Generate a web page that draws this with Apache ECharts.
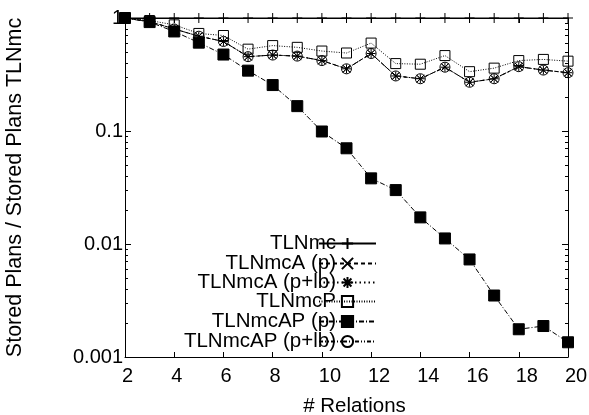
<!DOCTYPE html>
<html>
<head>
<meta charset="utf-8">
<script src="https://cdn.jsdelivr.net/npm/echarts@6/dist/echarts.min.js"></script>
<style>
  html, body { margin: 0; padding: 0; background: #fff; }
  #chart { width: 589px; height: 415px; }
</style>
</head>
<body>
<div id="chart"></div>
<script>
// Number of relations in the query (x values)
const relations = [2, 3, 4, 5, 6, 7, 8, 9, 10, 11, 12, 13, 14, 15, 16, 17, 18, 19, 20];

// Stored plans relative to TLNmc
const tlnmc      = [1, 1, 1, 1, 1, 1, 1, 1, 1, 1, 1, 1, 1, 1, 1, 1, 1, 1, 1];
const tlnmcA_p   = [1, 0.93, 0.80, 0.69, 0.62, 0.455, 0.47, 0.46, 0.42, 0.355, 0.485, 0.307, 0.29, 0.367, 0.27, 0.29, 0.371, 0.346, 0.328];
const tlnmcA_plb = [1, 0.93, 0.80, 0.69, 0.62, 0.455, 0.47, 0.46, 0.42, 0.355, 0.485, 0.307, 0.29, 0.367, 0.27, 0.29, 0.371, 0.346, 0.328];
const tlnmcP     = [1, 0.95, 0.87, 0.73, 0.70, 0.53, 0.57, 0.55, 0.51, 0.49, 0.60, 0.395, 0.39, 0.465, 0.335, 0.36, 0.42, 0.43, 0.415];
const tlnmcAP_p  = [1, 0.92, 0.76, 0.605, 0.475, 0.342, 0.255, 0.166, 0.099, 0.0703, 0.0381, 0.030, 0.0172, 0.0112, 0.0073, 0.0035, 0.00176, 0.00188, 0.00135];
const tlnmcAP_plb = [1, 0.93, 0.80, 0.69, 0.62, 0.455, 0.47, 0.46, 0.42, 0.355, 0.485, 0.307, 0.29, 0.367, 0.27, 0.29, 0.371, 0.346, 0.328];

// Axis tick labels and titles
const yTickLabels = { '-3': '0.001', '-2': '0.01', '-1': '0.1', '0': '1' };
const xTitle = '# Relations';
const yTitle = 'Stored Plans / Stored Plans TLNmc';

// Minor tick positions of the log axis (2..9 within each decade), in log10 units
const minorMantissas = [2, 3, 4, 5, 6, 7, 8, 9];
const decades = [-3, -2, -1];
const minorTickLog = [];
decades.forEach(d => minorMantissas.forEach(m => minorTickLog.push(d + Math.log10(m))));

const FONT = "'Liberation Sans', Arial, Helvetica, sans-serif";
const INK = '#000';

// Point symbols
const SYM_PLUS = 'path://M0,5L10,5M5,0L5,10';
const SYM_CROSS = 'path://M0,0L10,10M0,10L10,0';
const SYM_STAR = 'path://M0,5L10,5M5,0L5,10M1.5,1.5L8.5,8.5M1.5,8.5L8.5,1.5';

const pairs = vals => relations.map((r, i) => [r, vals[i]]);

const seriesDefs = [
  { name: 'TLNmc',          data: tlnmc,       symbol: SYM_PLUS,  size: 10, fill: 'rgba(0,0,0,0)', dash: 'solid' },
  { name: 'TLNmcA (p)',     data: tlnmcA_p,    symbol: SYM_CROSS, size: 8,  fill: 'rgba(0,0,0,0)', dash: [4, 3] },
  { name: 'TLNmcA (p+lb)',  data: tlnmcA_plb,  symbol: SYM_STAR,  size: 9,  fill: 'rgba(0,0,0,0)', dash: [1.5, 3] },
  { name: 'TLNmcP',         data: tlnmcP,      symbol: 'rect',    size: 10, fill: 'rgba(0,0,0,0)', dash: [1, 1.5] },
  { name: 'TLNmcAP (p)',    data: tlnmcAP_p,   symbol: 'rect',    size: 11, fill: INK,             dash: [5, 2, 1, 2] },
  { name: 'TLNmcAP (p+lb)', data: tlnmcAP_plb, symbol: 'circle',  size: 10, fill: 'rgba(0,0,0,0)', dash: [4, 2, 1, 2, 1, 2] }
];

const legendTops = [233, 253, 272, 291, 311, 331];

const series = seriesDefs.map(s => ({
  name: s.name,
  type: 'line',
  xAxisIndex: 0,
  yAxisIndex: 0,
  data: pairs(s.data),
  symbol: s.symbol,
  symbolSize: s.size,
  showSymbol: true,
  clip: false,
  lineStyle: { color: INK, width: 1, type: s.dash },
  itemStyle: { color: s.fill, borderColor: INK, borderWidth: 1 },
  emphasis: { disabled: true },
  animation: false
}));

const legends = seriesDefs.map((s, i) => ({
  data: [s.name],
  orient: 'vertical',
  right: 212,
  top: legendTops[i],
  align: 'right',
  padding: 0,
  itemWidth: 57,
  itemHeight: 14,
  selectedMode: false,
  textStyle: { fontFamily: FONT, fontSize: 20.5, color: INK, lineHeight: 20, padding: [0, -22, 0, 0] }
}));

const tickFont = { fontFamily: FONT, fontSize: 20, color: INK };

const option = {
  backgroundColor: '#fff',
  animation: false,
  grid: { left: 125, right: 21, top: 18, bottom: 58, containLabel: false, outerBoundsMode: 'none' },
  legend: legends,
  xAxis: [
    {
      type: 'value', position: 'bottom', min: 2, max: 20, interval: 2,
      name: xTitle, nameLocation: 'middle', nameGap: 39,
      nameTextStyle: { fontFamily: FONT, fontSize: 20.5, color: INK, padding: [0, 0, 0, 16] },
      axisLine: { show: true, onZero: false, lineStyle: { color: INK, width: 1 } },
      axisTick: { show: true, inside: true, length: 5, lineStyle: { color: INK } },
      axisLabel: {
        margin: 9,
        // one-digit and two-digit numbers are set a little right of their ticks
        formatter: v => (String(v).length > 1 ? '{w|' + v + '}' : '{n|' + v + '}'),
        rich: {
          n: Object.assign({ padding: [0, 0, 0, 5] }, tickFont),
          w: Object.assign({ padding: [0, 0, 0, 16] }, tickFont)
        }
      },
      splitLine: { show: false }
    },
    {
      type: 'value', position: 'top', min: 2, max: 20, interval: 2,
      axisLine: { show: true, onZero: false, lineStyle: { color: INK, width: 1 } },
      axisTick: { show: true, inside: true, length: 5, lineStyle: { color: INK } },
      axisLabel: { show: false },
      splitLine: { show: false }
    }
  ],
  yAxis: [
    {
      type: 'log', logBase: 10, position: 'left', min: 0.001, max: 1,
      name: yTitle, nameLocation: 'middle', nameGap: 99,
      nameTextStyle: { fontFamily: FONT, fontSize: 21.5, color: INK },
      axisLine: { show: true, lineStyle: { color: INK, width: 1 } },
      axisTick: { show: true, inside: true, length: 6, lineStyle: { color: INK } },
      axisLabel: Object.assign({
        margin: 2,
        formatter: v => yTickLabels[String(Math.round(Math.log10(v)))] || ''
      }, tickFont),
      splitLine: { show: false }
    },
    {
      type: 'log', logBase: 10, position: 'right', min: 0.001, max: 1,
      axisLine: { show: true, lineStyle: { color: INK, width: 1 } },
      axisTick: { show: true, inside: true, length: 6, lineStyle: { color: INK } },
      axisLabel: { show: false },
      splitLine: { show: false }
    },
    {
      type: 'value', position: 'left', min: -3, max: 0,
      axisLine: { show: false },
      axisTick: { show: true, inside: true, length: 3, customValues: minorTickLog, lineStyle: { color: INK } },
      axisLabel: { show: false },
      splitLine: { show: false }
    },
    {
      type: 'value', position: 'right', min: -3, max: 0,
      axisLine: { show: false },
      axisTick: { show: true, inside: true, length: 3, customValues: minorTickLog, lineStyle: { color: INK } },
      axisLabel: { show: false },
      splitLine: { show: false }
    }
  ],
  series: series
};

const chart = echarts.init(document.getElementById('chart'), null, { renderer: 'canvas' });
chart.setOption(option);
</script>
</body>
</html>
